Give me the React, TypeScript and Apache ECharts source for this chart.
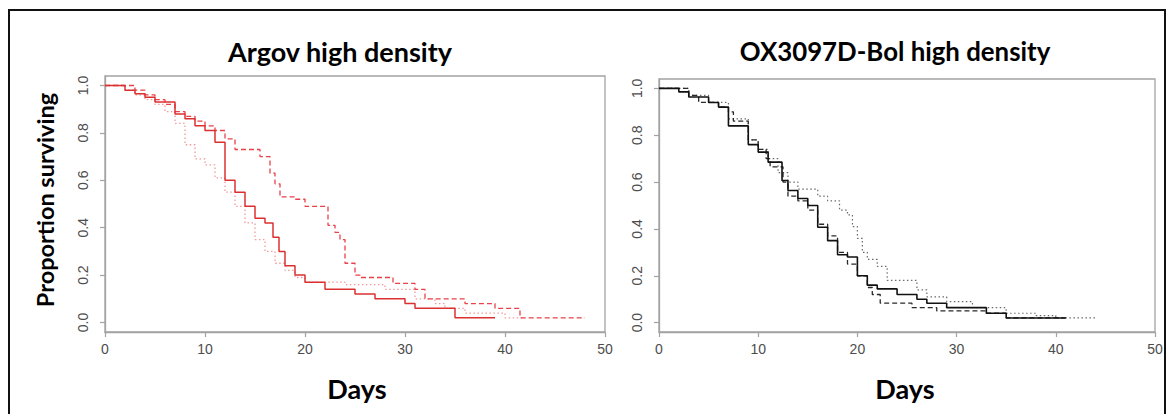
import React, { useEffect, useRef } from "react";
import * as echarts from "echarts";

// ---- Data (Kaplan-Meier step points: day, proportion surviving) ----
const xTicks = [0, 10, 20, 30, 40, 50];
const yTicks = [0, 0.2, 0.4, 0.6, 0.8, 1.0];

const panelTitles = ["Argov high density", "OX3097D-Bol high density"];
const yAxisTitle = "Proportion surviving";
const xAxisTitle = "Days";

// Argov high density
const argovSolidDays = [0, 2, 3, 4, 5, 7, 8, 9, 10, 11, 12, 13, 14, 15, 16, 16.8, 17.4, 18, 19, 20, 22, 25, 27, 30, 31, 35, 39];
const argovSolidSurv = [1.0, 0.98, 0.965, 0.95, 0.93, 0.88, 0.86, 0.83, 0.81, 0.76, 0.6, 0.55, 0.49, 0.44, 0.42, 0.36, 0.3, 0.24, 0.2, 0.17, 0.14, 0.12, 0.1, 0.08, 0.06, 0.02, 0.02];

const argovDashedDays = [0, 3, 4, 5, 6, 7, 8, 9, 10, 11, 12, 13, 15.5, 16.5, 17, 17.5, 19, 20, 22.3, 23, 23.5, 24, 25, 25.5, 28.8, 31, 32, 36, 39, 41.5, 48];
const argovDashedSurv = [1.0, 0.98, 0.96, 0.94, 0.92, 0.89, 0.87, 0.85, 0.83, 0.81, 0.775, 0.73, 0.7, 0.63, 0.585, 0.53, 0.52, 0.49, 0.41, 0.38, 0.35, 0.25, 0.2, 0.19, 0.165, 0.14, 0.1, 0.08, 0.06, 0.02, 0.02];

const argovDottedDays = [0, 2, 3, 4, 5, 6, 7, 8, 9, 10, 11, 12, 13, 14, 15, 16, 17, 18, 19, 20, 24, 28, 31, 33, 34, 36, 40, 42];
const argovDottedSurv = [1.0, 0.98, 0.96, 0.94, 0.92, 0.89, 0.84, 0.75, 0.69, 0.665, 0.61, 0.55, 0.49, 0.42, 0.35, 0.3, 0.25, 0.22, 0.19, 0.17, 0.16, 0.14, 0.1, 0.08, 0.06, 0.04, 0.02, 0.02];

// OX3097D-Bol high density
const oxSolidDays = [0, 2, 3, 5, 6, 7, 9, 10, 11, 12.4, 13, 14, 15, 16, 17, 18, 19, 20, 21, 22, 24, 26, 27, 29, 33, 35, 41];
const oxSolidSurv = [1.0, 0.985, 0.963, 0.94, 0.92, 0.84, 0.76, 0.728, 0.685, 0.607, 0.564, 0.53, 0.5, 0.407, 0.35, 0.29, 0.28, 0.2, 0.16, 0.144, 0.12, 0.1, 0.083, 0.064, 0.04, 0.02, 0.02];

const oxDashedDays = [0, 3, 4, 6, 7, 7.5, 9, 10, 10.8, 11.2, 12.5, 13, 14, 15, 16, 17, 18, 19, 20, 21, 21.5, 22.3, 25.5, 28, 33, 35, 41];
const oxDashedSurv = [1.0, 0.97, 0.94, 0.92, 0.9, 0.86, 0.78, 0.74, 0.7, 0.665, 0.6, 0.54, 0.52, 0.48, 0.42, 0.37, 0.3, 0.25, 0.2, 0.15, 0.12, 0.083, 0.064, 0.05, 0.04, 0.02, 0.02];

const oxDottedDays = [0, 3, 5, 7, 9, 10, 11, 12, 13, 14, 16, 17, 18.2, 19, 19.5, 20, 20.5, 21, 22, 23, 26, 27, 29, 31.6, 35, 38, 40, 44];
const oxDottedSurv = [1.0, 0.97, 0.94, 0.87, 0.78, 0.74, 0.7, 0.64, 0.6, 0.57, 0.54, 0.52, 0.48, 0.46, 0.41, 0.36, 0.3, 0.27, 0.24, 0.18, 0.14, 0.11, 0.09, 0.064, 0.04, 0.03, 0.02, 0.02];

const zip = (a: number[], b: number[]) => a.map((v, i) => [v, b[i]]);

const AXIS_GRAY = "#a3a3a3";
const LABEL_GRAY = "#4d4d4d";
const TITLE_FONT = "Lato, 'Open Sans', sans-serif";
const TICK_FONT = "'Liberation Sans', Arial, sans-serif";

function makeX(gridIndex: number) {
  return {
    gridIndex,
    type: "value",
    min: 0,
    max: 50,
    interval: 10,
    axisLine: { show: true, onZero: false, lineStyle: { color: AXIS_GRAY, width: 1.3 } },
    axisTick: { show: true, length: 5, lineStyle: { color: AXIS_GRAY, width: 1.2 } },
    axisLabel: {
      color: LABEL_GRAY,
      fontSize: 14,
      fontFamily: TICK_FONT,
      margin: 10,
      customValues: xTicks,
    },
    splitLine: { show: false },
  };
}

function makeY(gridIndex: number) {
  return {
    gridIndex,
    type: "value",
    min: -0.04,
    max: 1.04,
    axisLine: { show: true, onZero: false, lineStyle: { color: AXIS_GRAY, width: 1.3 } },
    axisTick: { show: true, length: 5, customValues: yTicks, lineStyle: { color: AXIS_GRAY, width: 1.2 } },
    axisLabel: {
      color: LABEL_GRAY,
      fontSize: 14,
      fontFamily: TICK_FONT,
      rotate: 90,
      margin: 15,
      customValues: yTicks,
      formatter: (v: number) => v.toFixed(1),
    },
    splitLine: { show: false },
  };
}

function makeSeries(
  name: string,
  days: number[],
  surv: number[],
  idx: number,
  color: string,
  type: any,
  width: number
) {
  return {
    name,
    type: "line",
    step: "end",
    xAxisIndex: idx,
    yAxisIndex: idx,
    showSymbol: false,
    symbol: "none",
    data: zip(days, surv),
    lineStyle: { color, width, type },
    silent: true,
  };
}

function titleText(text: string, x: number, y: number, size: number, rotation = 0) {
  return {
    type: "text",
    x,
    y,
    rotation,
    style: {
      text,
      font: `bold ${size}px ${TITLE_FONT}`,
      fill: "#000",
      textAlign: "center",
      textVerticalAlign: "middle",
    },
  };
}

export default function App() {
  const ref = useRef<HTMLDivElement>(null);

  useEffect(() => {
    if (!ref.current) return;
    const chart = echarts.init(ref.current, undefined, { renderer: "svg" });
    const option: any = {
      animation: false,
      backgroundColor: "#ffffff",
      grid: [
        { left: 105, top: 76, width: 500, height: 256, show: true, borderColor: AXIS_GRAY, borderWidth: 1.3, containLabel: false },
        { left: 659, top: 79, width: 496, height: 253, show: true, borderColor: AXIS_GRAY, borderWidth: 1.3, containLabel: false },
      ],
      xAxis: [makeX(0), makeX(1)],
      yAxis: [makeY(0), makeY(1)],
      series: [
        makeSeries("Argov dotted", argovDottedDays, argovDottedSurv, 0, "#f29a9a", [1.5, 2.5], 1.3),
        makeSeries("Argov dashed", argovDashedDays, argovDashedSurv, 0, "#e8414a", [5, 3], 1.3),
        makeSeries("Argov solid", argovSolidDays, argovSolidSurv, 0, "#dc3030", "solid", 1.5),
        makeSeries("OX dotted", oxDottedDays, oxDottedSurv, 1, "#6a6a6a", [1.5, 2.5], 1.2),
        makeSeries("OX dashed", oxDashedDays, oxDashedSurv, 1, "#2a2a2a", [5, 3], 1.3),
        makeSeries("OX solid", oxSolidDays, oxSolidSurv, 1, "#111111", "solid", 1.6),
      ],
      graphic: [
        {
          type: "rect",
          shape: { x: 9, y: 10, width: 1156, height: 420 },
          style: { fill: "none", stroke: "#111", lineWidth: 2 },
          silent: true,
          z: 100,
        },
        titleText(panelTitles[0], 340, 51, 27),
        titleText(panelTitles[1], 895, 51, 25.8),
        titleText(yAxisTitle, 45, 200, 23.5, Math.PI / 2),
        titleText(xAxisTitle, 357, 388, 27),
        titleText(xAxisTitle, 905, 388, 27),
      ],
    };
    chart.setOption(option);
    return () => chart.dispose();
  }, []);

  return (
    <div
      ref={ref}
      style={{ position: "absolute", left: 0, top: 0, width: 1172, height: 414, background: "#fff" }}
    />
  );
}
